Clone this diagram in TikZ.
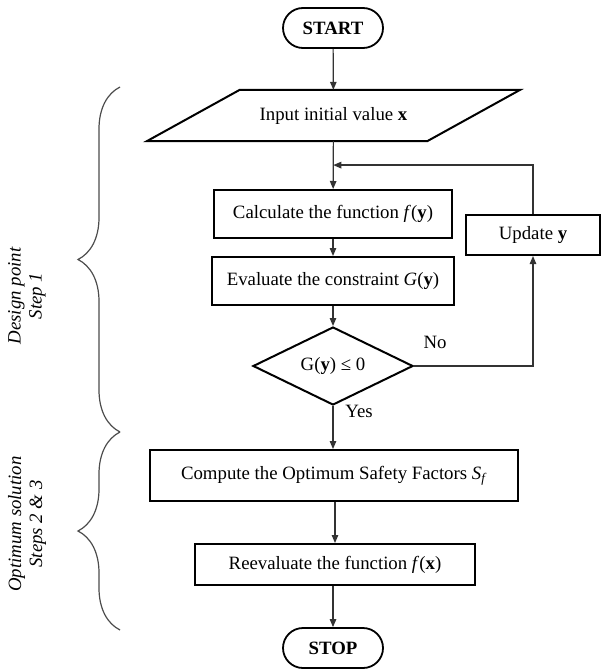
\documentclass[tikz,border=0pt]{standalone}
\usepackage{fontspec}
\setmainfont{Liberation Serif}
\usetikzlibrary{arrows.meta, calc, positioning, shapes.geometric, decorations.pathreplacing}
\tikzset{%
    edge/.style={%
        draw=black!80,
        line width=1.2pt,
        -{Triangle[length=8pt, width=6.5pt]},
    },
    terminal/.style={%
        rectangle,
        draw=black, line width=1.8pt,
        rounded corners=20pt,
        minimum width=100pt,
        minimum height=40pt,
        font=\fontsize{18.8}{21}\selectfont\bfseries,
        text centered,
    },
    process/.style={%
        rectangle,
        draw=black, line width=2pt,
        minimum height=48pt,
        text centered,
    },
    decision/.style={%
        diamond,
        draw=black, line width=2pt,
        aspect=2,
        inner sep=0pt,
        minimum width=160pt,
        minimum height=78pt,
        text centered,
    },
    iobox/.style={%
        rectangle,
        minimum width=187pt,
        minimum height=51pt,
        text centered,
    },
    stepbrace/.style={%
        draw=black!70,
        line width=1.2pt,
        decorate,
        decoration={brace, amplitude=42pt},
    },
    bracelabel/.style={%
        rotate=90,
        align=center,
        font=\fontsize{18.8}{21}\selectfont\itshape,
    },
}

\begin{document}
\begin{tikzpicture}[x=1pt, y=-1pt, font=\fontsize{18.8}{21}\selectfont]
	\useasboundingbox (0,0) rectangle (602,671);

	\node [terminal] at (333,28) (start) {START};
	\node [iobox] at (333.5,115.5) (input) {Input initial value \textbf{x}};
	\draw [line width=2pt, line join=miter]
		(input.north west) -- ($(input.north east)+(93,0)$)
		-- (input.south east) -- ($(input.south west)+(-93,0)$) -- cycle;

	\node [process, minimum width=238pt] at (333,214) (calc)
		{Calculate the function \textit{f}(\textbf{y})};
	\node [process, minimum width=242pt] at (333,281) (eval)
		{Evaluate the constraint \textit{G}(\textbf{y})};
	\node [decision] at (333,366) (check) {G(\textbf{y}) ≤ 0};
	\node [process, minimum width=368pt, minimum height=51pt] at (334,475.5) (compute)
		{Compute the Optimum Safety Factors \textit{S}\textsubscript{\textit{f}}};
	\node [process, minimum width=280pt, minimum height=41pt] at (335,564.5) (reeval)
		{Reevaluate the function \textit{f}(\textbf{x})};
	\node [terminal] at (333,648) (stop) {STOP};

	\node [process, minimum width=134pt, minimum height=40pt] at (533,235) (update) {Update \textbf{y}};

	\coordinate (merge) at ($(input.south)!0.5!(calc.north)$);

	\draw[edge] (start) -- (input);
	\draw[edge] (input) -- (calc);
	\draw[edge] (calc) -- (eval);
	\draw[edge] (eval) -- (check);
	\draw[edge] (check) -- (check |- compute.north);
	\draw[edge] (compute.south -| reeval) -- (reeval);
	\draw[edge] (reeval.south -| stop) -- (stop);

	\draw[edge] (check.east) -| (update.south);
	\draw[edge] (update.north) |- (merge);

	\node at ($(check.east)+(21,-24)$) (lbl_no) {No};
	\node at ($(check.south)+(26,5)$) (lbl_yes) {Yes};

	% steps of the method
	\coordinate (brace_top) at (120,87);
	\coordinate (brace_mid) at (120,432);
	\coordinate (brace_bot) at (120,630);
	\draw[stepbrace] (brace_mid) -- (brace_top);
	\draw[stepbrace] (brace_bot) -- (brace_mid);

	\node [bracelabel] at (27,296) (lbl_design) {Design point\\Step 1};
	\node [bracelabel] at (27,524) (lbl_optimum) {Optimum solution\\Steps 2 \& 3};
\end{tikzpicture}
\end{document}
